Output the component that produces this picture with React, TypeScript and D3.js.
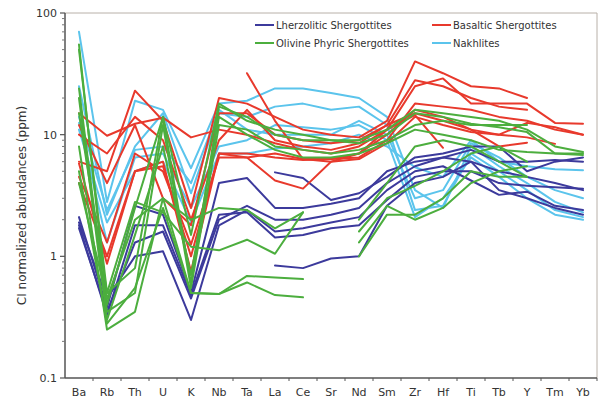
import React from "react";
import * as d3 from "d3";

const categories = ["Ba","Rb","Th","U","K","Nb","Ta","La","Ce","Sr","Nd","Sm","Zr","Hf","Ti","Tb","Y","Tm","Yb"];
const yTicks = [0.1, 1, 10, 100];
const yTickLabels = ["0.1", "1", "10", "100"];
const yLabel = "CI normalized abundances (ppm)";

type V = number | null;
const _ = null;

const lherzolitic: V[][] = [
  [2.1, 0.38, 2.6, 2.2, 0.5, 4, 4.4, 2.5, 2.5, 2.7, 3, 5, 6, 6.5, 7.5, 6, 6, 6.2, 6],
  [1.8, 0.33, 1.8, 1.8, 0.48, 2.2, 2.3, 1.43, 1.5, 1.7, 1.8, 2.9, 4.5, 5, 5, 4, 3.8, 3.7, 3.6],
  [1.7, 0.35, 1.3, 1.6, 0.45, 2, 2.6, 2, 2, 2.2, 2.5, 4, 5.5, 6.5, 6, 3.5, 3, 2.5, 2.2],
  [1.9, 0.45, 1.0, 1.1, 0.3, 1.8, 2.4, 1.6, 1.7, 1.9, 2.1, 3.5, 5, 5.5, 4.2, 3.2, 3.4, 2.6, 2.4],
  [_, _, _, _, _, _, _, 4.9, 4.4, 2.9, 3.3, 4.5, 6.5, 7, 8, 8, 5, 6, 6.5],
  [_, _, _, _, _, _, _, 0.84, 0.8, 0.96, 1.0, 2.6, 4, 4.5, 6, 5, 4.5, 4, 3.5],
];

const olivinePhyric: V[][] = [
  [55, 0.4, 2.5, 14, 0.6, 17, 14, 10, 9, 9, 8.5, 10, 15, 14, 12.3, 11.5, 10.5, 7, 7],
  [24, 0.35, 0.5, 12, 0.55, 12, 11, 8, 7.5, 7, 7.5, 9, 12, 13, 12, 12, 12, _, _],
  [20, 0.3, 1.5, 8, 0.7, 14, 10, 7.5, 6.5, 6.5, 7, 8.5, 11, 10, 9, 7.5, 7.2, 7, 6.8],
  [8, 0.25, 0.35, 3, 0.5, 0.49, 0.69, 0.67, 0.65, _, 1.0, 2.2, 2.2, 3, 5, 4.5, 4.5, _, _],
  [5, 0.28, 0.55, 2.5, 0.5, 0.49, 0.61, 0.48, 0.46, _, 1.3, 2.6, 2, 2.5, 4, 5, 5.5, _, _],
  [15, 0.5, 2.8, 2.3, 1.2, 1.12, 1.37, 1.05, 2.3, _, 1.6, 3, 3.8, 5, 7, 8, 6, _, _],
  [4, 0.45, 2, 3, 2, 2.5, 2.4, 1.7, 2.3, _, 2, 4, 8, 9, 8, 6, 4.5, _, _],
  [50, 0.5, 0.8, 14, 1.5, 18, 13, 11, 10, 9, 9, 11, 16, 15, 14, 13, 11, 8, 7.2],
];

const basaltic: V[][] = [
  [15, 9.8, 12.3, 13.8, 9.5, 11, 10, 8.5, 7.5, 7, 8, 11, 25, 29, 18, 18, 18, 12.5, 12.3],
  [6, 5, 23, 13, 2.5, 20, 18, 14, 11, 10, 9.5, 13, 40, 32, 25, 24, 20, _, _],
  [5.8, 0.87, 5, 6, 0.75, 7, 7, 6.5, 6.2, 6.3, 6.5, 9, 18, 17, 16, 14, 13, 11, 10],
  [4.5, 1.3, 7, 5, 1.25, 6.5, 6.5, 7, 6.3, 6, 7, 10, 16, 14, 11, 10, 9.5, 8.4, _],
  [_, _, _, _, _, _, 32, 13, 6.3, 6.3, 7, 11, 14.5, 7.8, _, _, _, _, _],
  [12, 4, 12, 3, 1.8, 15, 15, 10, 9, 8.5, 9, 12, 15, 13, 11, 8, 8.6, _, _],
  [10, 7, 14, 9, 2, 9, 16, 9, 8, 7.5, 8.5, 12, 28, 25, 20, 17, 16, _, _],
  [4, 1, 5, 5.5, 1, 7, 6.5, 4.2, 3.6, 6, 6.3, 8.5, 14, 12, 10.5, 10, 12.5, 11.5, 10],
];

const nakhlites: V[][] = [
  [70, 2.8, 19, 16, 5.3, 18, 19, 24, 24, 22, 20, 14, 3.5, 2.5, 8, 5.5, 4, 2.8, 2.3],
  [25, 2.2, 8, 15, 3.3, 15, 14, 17, 18, 16, 17, 12, 2.4, 2.6, 7, 5, 3.5, 2.4, 2.1],
  [12.5, 1.3, 6.5, 7, 2.5, 8, 9, 12, 11.5, 11, 12, 9, 2.1, 3, 6.5, 4.5, 3, 2.2, 2],
  [11, 1.9, 5, 6, 1.9, 7, 7, 7.7, 8, 8.5, 10, 8, 5.4, 4.5, 9, 6, 5.5, 5.2, 5.1],
  [14, 2.4, 7.5, 8, 4, 16, 11, 10, 10, 10, 13, 10, 3, 3.5, 8.5, 6.5, 4.5, 3.5, 3],
];

const groupNames = ["Lherzolitic Shergottites", "Olivine Phyric Shergottites", "Basaltic Shergottites", "Nakhlites"];
const groupColors = ["#3c3a9c", "#4cae3e", "#e8392c", "#5bc4ec"];
const groupData = [lherzolitic, olivinePhyric, basaltic, nakhlites];
const drawOrder = [3, 0, 2, 1];

export default function App() {
  const W = 603, H = 400;
  const left = 65, right = 597, top = 13, bottom = 378;
  const x = d3.scalePoint<string>().domain(categories).range([left, right]).padding(0.5);
  const y = d3.scaleLog().domain([0.1, 100]).range([bottom, top]);
  const step = x.step();

  const line = d3
    .line<V>()
    .defined((d) => d != null)
    .x((_d, i) => x(categories[i]) as number)
    .y((d) => y(d as number));

  const minor: number[] = [];
  [0.1, 1, 10].forEach((b) => {
    for (let k = 2; k <= 9; k++) minor.push(b * k);
  });

  const font = "'DejaVu Sans', Verdana, sans-serif";

  return (
    <svg width={W} height={H} style={{ position: "absolute", left: 0, top: 0 }} fontFamily={font}>
      <rect x={0} y={0} width={W} height={H} fill="#ffffff" />
      {/* frame */}
      <line x1={left} x2={right} y1={top} y2={top} stroke="#b8b0a8" strokeWidth={1} />
      <line x1={right} x2={right} y1={top} y2={bottom} stroke="#b8b0a8" strokeWidth={1} />
      {/* series */}
      {drawOrder.map((g) =>
        groupData[g].map((s, i) => (
          <path
            key={`${g}-${i}`}
            d={line(s) || ""}
            fill="none"
            stroke={groupColors[g]}
            strokeWidth={2}
            strokeLinejoin="round"
            strokeLinecap="round"
          />
        ))
      )}
      {/* axes */}
      <line x1={left} x2={left} y1={top} y2={bottom} stroke="#555" strokeWidth={1.5} />
      <line x1={left} x2={right} y1={bottom} y2={bottom} stroke="#555" strokeWidth={1.5} />
      {yTicks.map((t, i) => (
        <g key={t}>
          <line x1={left - 5} x2={left} y1={y(t)} y2={y(t)} stroke="#555" strokeWidth={1.2} />
          <text x={left - 8} y={y(t)} dy="0.35em" textAnchor="end" fontSize={11} fill="#333">
            {yTickLabels[i]}
          </text>
        </g>
      ))}
      {minor.map((t) => (
        <line key={t} x1={left - 3} x2={left} y1={y(t)} y2={y(t)} stroke="#777" strokeWidth={1} />
      ))}
      {categories.map((c, i) => (
        <g key={c}>
          <line
            x1={(x(c) as number) + step / 2}
            x2={(x(c) as number) + step / 2}
            y1={bottom}
            y2={bottom + 3}
            stroke="#555"
            strokeWidth={1}
          />
          <text x={x(c) as number} y={bottom + 18} textAnchor="middle" fontSize={11} fill="#333">
            {c}
          </text>
        </g>
      ))}
      <text
        transform={`translate(26,${(top + bottom) / 2 + 10}) rotate(-90)`}
        textAnchor="middle"
        fontSize={12}
        fill="#333"
      >
        {yLabel}
      </text>
      {/* legend */}
      {groupNames.map((n, i) => {
        const lx = i < 2 ? 255 : 432;
        const ly = i % 2 === 0 ? 25 : 43;
        const gi = [0, 1, 2, 3][i];
        return (
          <g key={n}>
            <line x1={lx} x2={lx + 19} y1={ly} y2={ly} stroke={groupColors[gi]} strokeWidth={2} />
            <text x={lx + 21} y={ly} dy="0.35em" fontSize={10} fill="#333">
              {n}
            </text>
          </g>
        );
      })}
    </svg>
  );
}
